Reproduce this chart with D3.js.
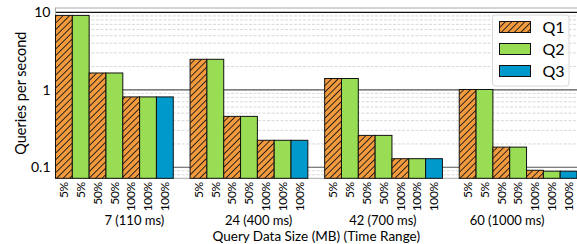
<!DOCTYPE html>
<html>
<head>
<meta charset="utf-8">
<script src="https://cdn.jsdelivr.net/npm/d3@7"></script>
<style>
  body { margin: 0; background: #fff; }
  text { font-family: Lato, "Open Sans", sans-serif; fill: #000; }
</style>
</head>
<body>
<div id="chart"></div>
<script>
// Chart data
const groups = ["7 (110 ms)", "24 (400 ms)", "42 (700 ms)", "60 (1000 ms)"];
const barQuery = ["Q1", "Q2", "Q1", "Q2", "Q1", "Q2", "Q3"];
const barSize = ["5%", "5%", "50%", "50%", "100%", "100%", "100%"];
const qps7 = [9.15, 9.15, 1.65, 1.65, 0.81, 0.81, 0.81];
const qps24 = [2.48, 2.48, 0.454, 0.454, 0.223, 0.223, 0.223];
const qps42 = [1.40, 1.40, 0.258, 0.258, 0.129, 0.129, 0.129];
const qps60 = [1.01, 1.01, 0.182, 0.182, 0.0914, 0.089, 0.089];
const legendKeys = ["Q1", "Q2", "Q3"];
const yTicks = [0.1, 1, 10];

const groupValues = [qps7, qps24, qps42, qps60];
const color = { Q1: "#F29A3E", Q2: "#99DD55", Q3: "#0099CC" };

// Dimensions
const W = 577, H = 244;
const margin = { top: 8, right: 0, bottom: 66, left: 55.5 };

const svg = d3.select("#chart").append("svg")
  .attr("width", W)
  .attr("height", H);

// Hatch pattern for Q1
const defs = svg.append("defs");
const hatch = defs.append("pattern")
  .attr("id", "hatch")
  .attr("patternUnits", "userSpaceOnUse")
  .attr("width", 4.6)
  .attr("height", 4.6)
  .attr("patternTransform", "rotate(45)");
hatch.append("rect").attr("width", 4.6).attr("height", 4.6).attr("fill", color.Q1);
hatch.append("line")
  .attr("x1", 0).attr("y1", 0).attr("x2", 0).attr("y2", 4.6)
  .attr("stroke", "#111").attr("stroke-width", 1.7);

// Scales
const x0 = d3.scaleBand()
  .domain(groups)
  .range([margin.left, W - margin.right])
  .paddingInner(1 / 8)
  .paddingOuter(0);

const x1 = d3.scaleBand()
  .domain(d3.range(barQuery.length))
  .range([0, x0.bandwidth()]);

const y = d3.scaleLog()
  .domain([0.072, 11.4])
  .range([H - margin.bottom + 0.3, margin.top]);

// Grid lines
const minor = [];
[0.01, 0.1, 1].forEach(d => d3.range(2, 10).forEach(k => {
  const v = d * k;
  if (v > y.domain()[0] && v < y.domain()[1]) minor.push(v);
}));

svg.append("g")
  .selectAll("line")
  .data(minor)
  .join("line")
  .attr("x1", margin.left).attr("x2", W)
  .attr("y1", d => y(d)).attr("y2", d => y(d))
  .attr("stroke", "#cfcfcf")
  .attr("stroke-dasharray", "3,1.5")
  .attr("stroke-width", 0.8);

svg.append("g")
  .selectAll("line")
  .data(yTicks)
  .join("line")
  .attr("x1", margin.left).attr("x2", W)
  .attr("y1", d => y(d)).attr("y2", d => y(d))
  .attr("stroke", d => d === 10 ? "#111" : "#555")
  .attr("stroke-width", 1.2);

// Frame
svg.append("rect")
  .attr("x", margin.left)
  .attr("y", y.range()[1])
  .attr("width", W - margin.left + 2)
  .attr("height", y.range()[0] - y.range()[1])
  .attr("fill", "none")
  .attr("stroke", "#aaa")
  .attr("stroke-width", 1);

// Bars
const bars = groups.flatMap((g, gi) => groupValues[gi].map((v, i) => ({
  group: g, idx: i, query: barQuery[i], size: barSize[i], value: v
})));

svg.append("g")
  .selectAll("rect")
  .data(bars)
  .join("rect")
  .attr("x", d => x0(d.group) + x1(d.idx))
  .attr("y", d => y(d.value))
  .attr("width", x1.bandwidth())
  .attr("height", d => y.range()[0] - y(d.value))
  .attr("fill", d => d.query === "Q1" ? "url(#hatch)" : color[d.query])
  .attr("stroke", "#111")
  .attr("stroke-width", 1);

// Bar labels (rotated)
svg.append("g")
  .selectAll("text")
  .data(bars)
  .join("text")
  .attr("transform", d => `translate(${x0(d.group) + x1(d.idx) + x1.bandwidth() / 2},${y.range()[0] + 4}) rotate(-90)`)
  .attr("dy", "0.35em")
  .attr("text-anchor", "end")
  .style("font-size", "12px")
  .style("letter-spacing", "-0.4px")
  .text(d => d.size);

// Group labels
const groupLabelX = d3.scalePoint()
  .domain(groups)
  .range([x0(groups[0]) + x0.bandwidth() / 2 + 20, x0(groups[3]) + x0.bandwidth() / 2 - 11]);

svg.append("g")
  .selectAll("text")
  .data(groups)
  .join("text")
  .attr("x", d => groupLabelX(d))
  .attr("y", 225)
  .attr("text-anchor", "middle")
  .style("font-size", "13px")
  .text(d => d);

// Y tick labels
svg.append("g")
  .selectAll("text")
  .data(yTicks)
  .join("text")
  .attr("x", margin.left - 5)
  .attr("y", d => y(d))
  .attr("dy", "0.35em")
  .attr("text-anchor", "end")
  .style("font-size", "14px")
  .text(d => d3.format("~g")(d));

// Axis titles
svg.append("text")
  .attr("x", (margin.left + W) / 2)
  .attr("y", 241.3)
  .attr("text-anchor", "middle")
  .style("font-size", "13.5px")
  .text("Query Data Size (MB) (Time Range)");

svg.append("text")
  .attr("transform", `translate(26,${(y.range()[0] + y.range()[1]) / 2}) rotate(-90)`)
  .attr("text-anchor", "middle")
  .style("font-size", "14.5px")
  .text("Queries per second");

// Legend
const legend = svg.append("g").attr("transform", "translate(492.5,15)");
legend.append("rect")
  .attr("width", 76.5)
  .attr("height", 71)
  .attr("rx", 3)
  .attr("fill", "#fff")
  .attr("fill-opacity", 0.85)
  .attr("stroke", "#d8d8d8");

const item = legend.selectAll(".item")
  .data(legendKeys)
  .join("g")
  .attr("class", "item")
  .attr("transform", (d, i) => `translate(7,${12 + i * 22})`);

item.append("rect")
  .attr("y", -5.5)
  .attr("width", 31)
  .attr("height", 11)
  .attr("fill", d => d === "Q1" ? "url(#hatch)" : color[d])
  .attr("stroke", "#111");

item.append("text")
  .attr("x", 43)
  .attr("dy", "0.36em")
  .style("font-size", "16px")
  .text(d => d);
</script>
</body>
</html>
